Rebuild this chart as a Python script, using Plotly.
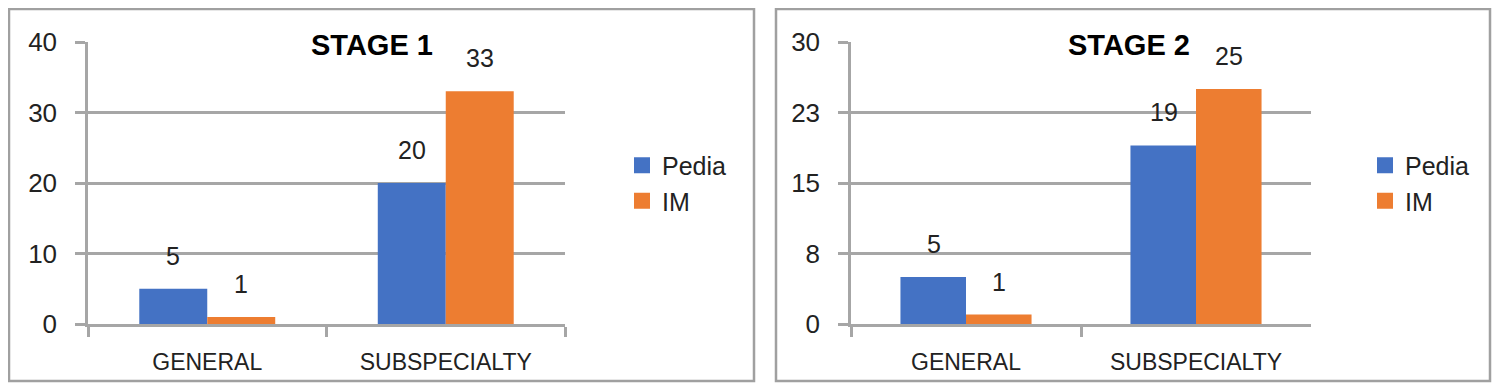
import plotly.graph_objects as go

categories = ["GENERAL", "SUBSPECIALTY"]
series_names = ["Pedia", "IM"]
stage1_pedia = [5, 20]
stage1_im = [1, 33]
stage2_pedia = [5, 19]
stage2_im = [1, 25]
stage1_ticks = [0, 10, 20, 30, 40]
stage1_ticktext = ["0", "10", "20", "30", "40"]
stage2_ticks = [0, 7.5, 15, 22.5, 30]
stage2_ticktext = ["0", "8", "15", "23", "30"]
titles = ["STAGE 1", "STAGE 2"]

colors = ["#4472C4", "#ED7D31"]
GRID = "#A6A6A6"
NUM_FONT = "Liberation Sans, Arial, sans-serif"
CAT_FONT = "Liberation Sans, Arial, sans-serif"

W, H = 1500, 387
OFF = 8  # page body margin offset

def px(x):
    return (x - OFF) / W

def py(y):
    return 1 - (y - OFF) / H

fig = go.Figure()

panels = [
    dict(xa="x", ya="y", data=[stage1_pedia, stage1_im], legend="legend", bw=68),
    dict(xa="x2", ya="y2", data=[stage2_pedia, stage2_im], legend="legend2", bw=65),
]

annotations = []
for p in panels:
    for name, vals, col in zip(series_names, p["data"], colors):
        fig.add_trace(go.Bar(
            x=categories, y=vals, name=name, marker_color=col,
            marker_line_width=0, xaxis=p["xa"], yaxis=p["ya"],
            showlegend=False,
        ))
        fig.add_trace(go.Scatter(
            x=[None], y=[None], mode="markers", name=name,
            marker=dict(symbol="square", size=16, color=col),
            xaxis=p["xa"], yaxis=p["ya"], legend=p["legend"],
        ))
    for vals, off in zip(p["data"], [-0.5, 0.5]):
        for c, v in zip(categories, vals):
            annotations.append(dict(
                x=c, y=v, xref=p["xa"], yref=p["ya"], text=str(v),
                showarrow=False, yanchor="bottom", yshift=17,
                xshift=off * p["bw"],
                font=dict(family=NUM_FONT, size=25, color="#222222"),
            ))

annotations.append(dict(x=px(372), y=py(45), xref="paper", yref="paper",
                        xanchor="center", yanchor="middle",
                        text="<b>" + titles[0] + "</b>", showarrow=False,
                        font=dict(family=NUM_FONT, size=29, color="black")))
annotations.append(dict(x=px(1129), y=py(45), xref="paper", yref="paper",
                        xanchor="center", yanchor="middle",
                        text="<b>" + titles[1] + "</b>", showarrow=False,
                        font=dict(family=NUM_FONT, size=29, color="black")))

axis_common_y = dict(
    showgrid=True, gridcolor=GRID, gridwidth=2.5,
    showline=True, linecolor=GRID, linewidth=2.5,
    ticks="outside", ticklen=10, tickwidth=2.5, tickcolor=GRID,
    tickfont=dict(family=NUM_FONT, size=26, color="#222222"),
    ticklabelstandoff=13, zeroline=False, fixedrange=True, automargin=False,
)
axis_common_x = dict(
    showgrid=False, showline=True, linecolor=GRID, linewidth=2.5,
    ticks="outside", ticklen=10, tickwidth=2.5, tickcolor=GRID,
    tickson="boundaries",
    tickfont=dict(family=CAT_FONT, size=23, color="#222222"),
    ticklabelstandoff=16, fixedrange=True, automargin=False,
)

fig.update_layout(
    width=W, height=H, autosize=False,
    margin=dict(l=0, r=0, t=0, b=0, pad=0, autoexpand=False),
    paper_bgcolor="white", plot_bgcolor="white",
    barmode="group", bargap=0.43, bargroupgap=0,
    xaxis=dict(domain=[px(88), px(565)], anchor="y", **axis_common_x),
    yaxis=dict(domain=[py(324), py(42)], anchor="x", range=[0, 40],
               tickvals=stage1_ticks, ticktext=stage1_ticktext, **axis_common_y),
    xaxis2=dict(domain=[px(851), px(1311)], anchor="y2", **axis_common_x),
    yaxis2=dict(domain=[py(324), py(42)], anchor="x2", range=[0, 30],
                tickvals=stage2_ticks, ticktext=stage2_ticktext, **axis_common_y),
    legend=dict(x=px(622), y=py(183), xanchor="left", yanchor="middle",
                font=dict(family=NUM_FONT, size=25, color="#222222"),
                bgcolor="rgba(0,0,0,0)"),
    legend2=dict(x=px(1365), y=py(183), xanchor="left", yanchor="middle",
                 font=dict(family=NUM_FONT, size=25, color="#222222"),
                 bgcolor="rgba(0,0,0,0)"),
    annotations=annotations,
    shapes=[
        dict(type="rect", xref="paper", yref="paper",
             x0=px(9), x1=px(754), y0=py(381), y1=py(9),
             line=dict(color="#A0A0A0", width=2.5)),
        dict(type="rect", xref="paper", yref="paper",
             x0=px(776), x1=px(1490), y0=py(381), y1=py(9),
             line=dict(color="#A0A0A0", width=2.5)),
    ],
)

fig.write_html("out.html")
